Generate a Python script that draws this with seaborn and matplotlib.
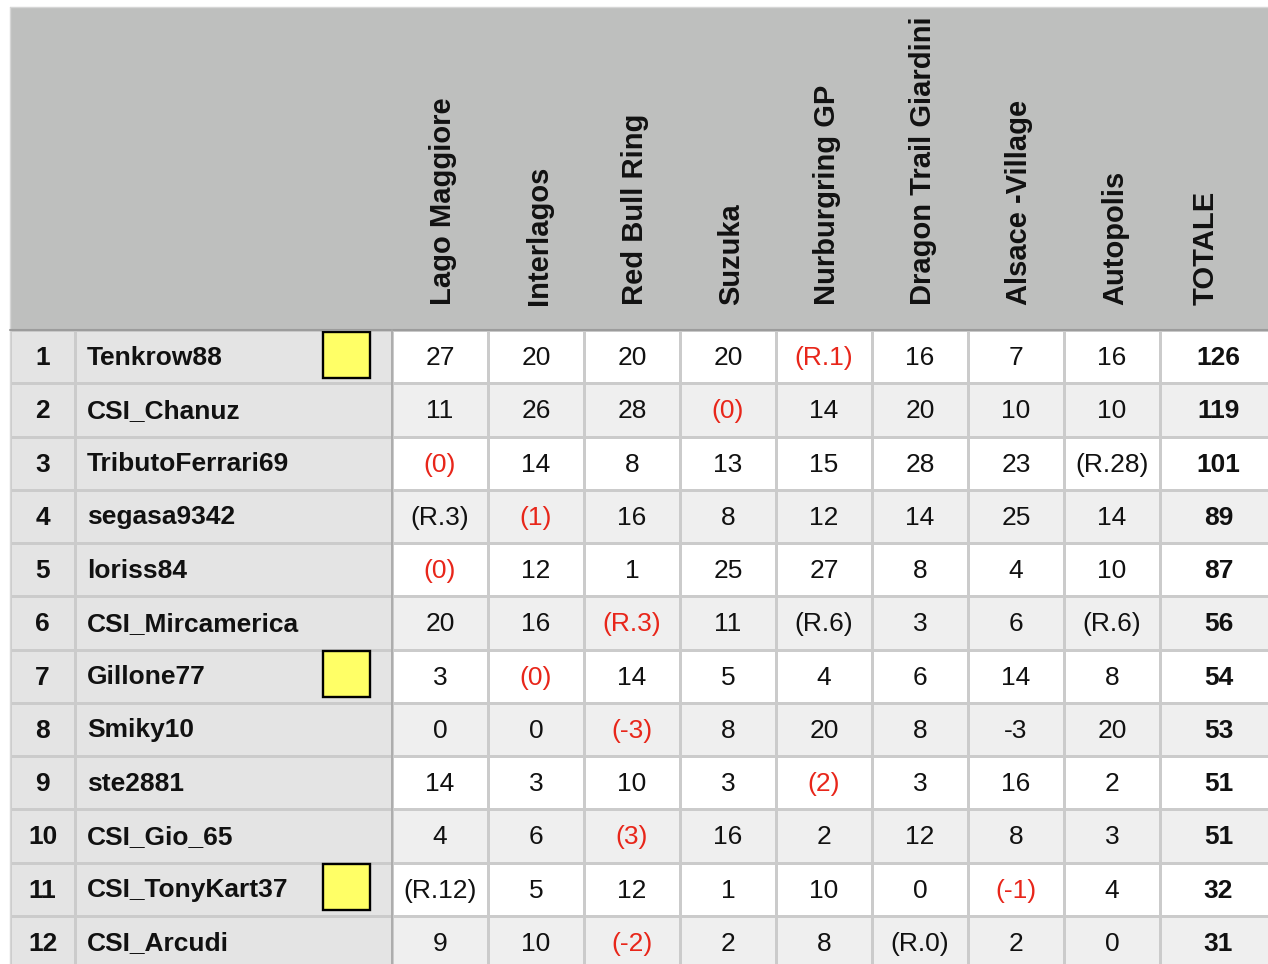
# Classifica campionato: tabella punti per pista, fatta con seaborn heatmap.
import numpy as np
import matplotlib
matplotlib.use('Agg')
import matplotlib.pyplot as plt
from matplotlib.colors import ListedColormap
from matplotlib.patches import Rectangle
import seaborn as sns

# data
tracks = ['Lago Maggiore', 'Interlagos', 'Red Bull Ring', 'Suzuka', 'Nurburgring GP',
          'Dragon Trail Giardini', 'Alsace -Village', 'Autopolis']
total_label = 'TOTALE'
ranks = [1, 2, 3, 4, 5, 6, 7, 8, 9, 10, 11, 12]
drivers = ['Tenkrow88', 'CSI_Chanuz', 'TributoFerrari69', 'segasa9342', 'loriss84',
           'CSI_Mircamerica', 'Gillone77', 'Smiky10', 'ste2881', 'CSI_Gio_65',
           'CSI_TonyKart37', 'CSI_Arcudi']
scores = [
    ['27', '20', '20', '20', '(R.1)', '16', '7', '16'],
    ['11', '26', '28', '(0)', '14', '20', '10', '10'],
    ['(0)', '14', '8', '13', '15', '28', '23', '(R.28)'],
    ['(R.3)', '(1)', '16', '8', '12', '14', '25', '14'],
    ['(0)', '12', '1', '25', '27', '8', '4', '10'],
    ['20', '16', '(R.3)', '11', '(R.6)', '3', '6', '(R.6)'],
    ['3', '(0)', '14', '5', '4', '6', '14', '8'],
    ['0', '0', '(-3)', '8', '20', '8', '-3', '20'],
    ['14', '3', '10', '3', '(2)', '3', '16', '2'],
    ['4', '6', '(3)', '16', '2', '12', '8', '3'],
    ['(R.12)', '5', '12', '1', '10', '0', '(-1)', '4'],
    ['9', '10', '(-2)', '2', '8', '(R.0)', '2', '0'],
]
# 1 = discarded score shown in red
discarded = [
    [0, 0, 0, 0, 1, 0, 0, 0],
    [0, 0, 0, 1, 0, 0, 0, 0],
    [1, 0, 0, 0, 0, 0, 0, 0],
    [0, 1, 0, 0, 0, 0, 0, 0],
    [1, 0, 0, 0, 0, 0, 0, 0],
    [0, 0, 1, 0, 0, 0, 0, 0],
    [0, 1, 0, 0, 0, 0, 0, 0],
    [0, 0, 1, 0, 0, 0, 0, 0],
    [0, 0, 0, 0, 1, 0, 0, 0],
    [0, 0, 1, 0, 0, 0, 0, 0],
    [0, 0, 0, 0, 0, 0, 1, 0],
    [0, 0, 1, 0, 0, 0, 0, 0],
]
totals = [126, 119, 101, 89, 87, 56, 54, 53, 51, 51, 32, 31]
yellow_flag = [1, 0, 0, 0, 0, 0, 1, 0, 0, 0, 1, 0]

sns.set_theme(style='white')
plt.rcParams['font.family'] = ['Liberation Sans', 'DejaVu Sans']

W, H = 1268, 964
LEFT, TOP, HEAD_BOT = 10, 7, 330
ROW_H = 53.25
RANK_W, NAME_W, COL_W, TOT_W = 65, 317, 96, 117
GRID = '#CBCBCB'
INK = '#111111'
RED = '#E8261A'
FS = 19

fig = plt.figure(figsize=(W / 100, H / 100), dpi=100)
fig.patch.set_facecolor('white')


def px_axes(x0, y0, w, h):
    return fig.add_axes([x0 / W, 1 - (y0 + h) / H, w / W, h / H])


def clean(ax):
    ax.set(xticks=[], yticks=[], xlabel='', ylabel='')
    for s in ax.spines.values():
        s.set_visible(False)


n = len(drivers)
body_h = n * ROW_H
stripes = np.array([[i % 2] * len(tracks) for i in range(n)])
stripe_cmap = ListedColormap(['white', '#EFEFEF'])

# rank column
ax_rank = px_axes(LEFT, HEAD_BOT, RANK_W, body_h)
sns.heatmap(np.zeros((n, 1)), ax=ax_rank, cmap=ListedColormap(['#E4E4E4']), cbar=False,
            linewidths=0.8, linecolor=GRID, annot=np.array(ranks).reshape(-1, 1), fmt='d',
            annot_kws={'size': FS, 'weight': 'bold', 'color': INK})
clean(ax_rank)

# driver names
name_x0 = LEFT + RANK_W
ax_name = px_axes(name_x0, HEAD_BOT, NAME_W, body_h)
sns.heatmap(np.zeros((n, 1)), ax=ax_name, cmap=ListedColormap(['#E4E4E4']), cbar=False,
            linewidths=0.8, linecolor=GRID)
clean(ax_name)
for i, name in enumerate(drivers):
    ax_name.text(12 / NAME_W, i + 0.52, name, ha='left', va='center',
                 fontsize=FS, fontweight='bold', color=INK)
    if yellow_flag[i]:
        ax_name.add_patch(Rectangle(((323 - name_x0) / NAME_W, i + 1.5 / ROW_H),
                                    47 / NAME_W, 46 / ROW_H, facecolor='#FFFF66',
                                    edgecolor='black', linewidth=1.7, zorder=3))

# race scores
data_x0 = name_x0 + NAME_W
ax_data = px_axes(data_x0, HEAD_BOT, COL_W * len(tracks), body_h)
sns.heatmap(stripes, ax=ax_data, cmap=stripe_cmap, cbar=False, vmin=0, vmax=1,
            linewidths=0.8, linecolor=GRID, annot=np.array(scores), fmt='',
            annot_kws={'size': FS, 'color': INK})
clean(ax_data)
for txt, red in zip(ax_data.texts, np.array(discarded).flat):
    txt.set_y(txt.get_position()[1] + 0.03)
    if red:
        txt.set_color(RED)

# totals
tot_x0 = data_x0 + COL_W * len(tracks)
ax_tot = px_axes(tot_x0, HEAD_BOT, TOT_W, body_h)
sns.heatmap(stripes[:, :1], ax=ax_tot, cmap=stripe_cmap, cbar=False, vmin=0, vmax=1,
            linewidths=0.8, linecolor=GRID, annot=np.array(totals).reshape(-1, 1), fmt='d',
            annot_kws={'size': FS, 'weight': 'bold', 'color': INK})
clean(ax_tot)
for ax in (ax_rank, ax_tot):
    for txt in ax.texts:
        txt.set_y(txt.get_position()[1] + 0.03)

# header + divider lines drawn on a transparent overlay in pixel units
ov = fig.add_axes([0, 0, 1, 1], zorder=5)
ov.set_xlim(0, W)
ov.set_ylim(H, 0)
ov.axis('off')
ov.patch.set_alpha(0)
ov.add_patch(Rectangle((LEFT, TOP), W - LEFT, HEAD_BOT - TOP, facecolor='#BEBFBE',
                       edgecolor='none'))
ov.plot([LEFT, W], [TOP, TOP], color='#D6D6D6', lw=1)
ov.plot([LEFT, LEFT], [TOP, H], color='#D6D6D6', lw=1)
ov.plot([LEFT, W], [HEAD_BOT, HEAD_BOT], color='#9C9C9C', lw=1.5)
ov.plot([data_x0, data_x0], [HEAD_BOT, H], color='#A8A8A8', lw=1.2)

col_centres = [data_x0 + (j + 0.5) * COL_W for j in range(len(tracks))]
for label, xc in zip(tracks + [total_label], col_centres + [tot_x0 + TOT_W / 2 - 16]):
    ov.text(xc + 3, 305, label, rotation=90, ha='center', va='bottom',
            fontsize=21, fontweight='bold', color=INK)

fig.savefig('out.png', dpi=100)
